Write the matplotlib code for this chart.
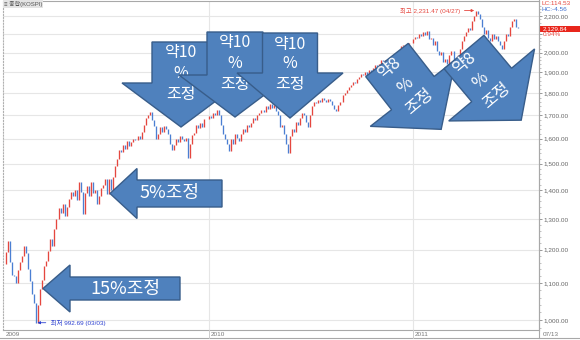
import numpy as np
import matplotlib
matplotlib.use('Agg')
import matplotlib.pyplot as plt
from matplotlib.patches import Polygon, Rectangle
from matplotlib.ticker import FixedLocator, NullFormatter, FixedFormatter

# ---------------- data (KOSPI, sampled about every 2.5 trading days) ----------------
kospi_2009 = [1157, 1194, 1228, 1163, 1125, 1122, 1100, 1137, 1162, 1180,
              1210, 1190, 1140, 1105, 1070, 1045, 993, 1040, 1085, 1110,
              1150, 1165, 1195, 1235, 1210, 1265, 1300, 1336, 1320, 1350,
              1310, 1340, 1370, 1395, 1380, 1400, 1365, 1430, 1395, 1315,
              1390, 1415, 1378, 1430, 1390, 1400, 1350, 1380, 1410, 1420,
              1440, 1385, 1440, 1400, 1450, 1490, 1520, 1555, 1545, 1575,
              1560, 1590, 1570, 1585, 1600, 1595, 1610, 1600, 1630, 1660,
              1690, 1700, 1715, 1680, 1655, 1600, 1620, 1650, 1630, 1655,
              1640, 1620, 1580, 1555, 1575, 1600, 1585, 1610, 1600, 1590,
              1605, 1524, 1580, 1615, 1625, 1660, 1645, 1665, 1650, 1685,
              1683]
kospi_2010 = [1696, 1690, 1710, 1700, 1722, 1700, 1660, 1620, 1600, 1580,
              1552, 1600, 1580, 1620, 1605, 1590, 1620, 1640, 1630, 1660,
              1650, 1665, 1690, 1680, 1700, 1710, 1725, 1715, 1740, 1730,
              1752, 1735, 1745, 1720, 1700, 1650, 1660, 1620, 1580, 1540,
              1610, 1640, 1630, 1670, 1660, 1690, 1710, 1700, 1670, 1650,
              1700, 1740, 1760, 1755, 1770, 1760, 1780, 1770, 1760, 1775,
              1765, 1745, 1730, 1720, 1745, 1760, 1790, 1800, 1815, 1830,
              1840, 1855, 1850, 1870, 1880, 1895, 1890, 1900, 1880, 1910,
              1900, 1920, 1935, 1915, 1940, 1960, 1945, 1965, 1914, 1930,
              1905, 1950, 1975, 2000, 2010, 2035, 2040, 2025, 2045, 2050,
              2051]
kospi_2011 = [2070, 2085, 2080, 2100, 2090, 2108, 2095, 2115, 2070, 2080,
              2040, 2060, 2010, 1990, 2005, 1950, 1970, 1940, 1990, 2010,
              1960, 1900, 1990, 2020, 2060, 2090, 2110, 2130, 2120, 2170,
              2200, 2231, 2210, 2180, 2140, 2100, 2120, 2080, 2060, 2100,
              2070, 2090, 2060, 2040, 2020, 2060, 2100, 2090, 2140, 2170,
              2180, 2140, 2130]
year_labels = ['2009', '2010', '2011']
year_start_day = [0, 253, 505]          # trading-day index of first session of each year
y_ticks = [1000, 1100, 1200, 1300, 1400, 1500, 1600, 1700, 1800, 1900, 2000, 2100, 2200]
last_close = '2,129.84'
last_change = '0.94%'
lc_text = 'LC:114.53'
hc_text = 'HC:-4.56'
max_text = '최고 2,231.47 (04/27)'
min_text = '최저 992.69 (03/03)'
end_date = '07/13'

# ---------------- figure ----------------
W, H = 580, 340
fig = plt.figure(figsize=(W / 100, H / 100), dpi=100)
fig.patch.set_facecolor('white')
SMALL = ['Liberation Sans', 'Noto Sans CJK KR', 'DejaVu Sans']
BIG = ['Noto Sans CJK KR', 'DejaVu Sans']
RED = '#e5473f'
BLUE = '#4b7fd3'

ax = fig.add_axes([3 / W, 10 / H, 536 / W, 329 / H])
step = 2.5
xs, vs = [], []
for start, vals in zip(year_start_day, [kospi_2009, kospi_2010, kospi_2011]):
    for k, v in enumerate(vals):
        xs.append(start + step * k)
        vs.append(v)
xs = np.array(xs)
vs = np.array(vs, dtype=float)
prev = np.concatenate([[vs[0]], vs[:-1]])
cols = [RED if v >= p else BLUE for v, p in zip(vs, prev)]
lo = np.minimum(prev, vs)
hi = np.maximum(prev, vs)
ax.vlines(xs, lo, hi, colors=cols, linewidth=0.95, zorder=3)

ax.set_yscale('log')
ax.set_xlim(-1, 660.5)
ax.set_ylim(974.4, 2287)
ax.set_xticks([])
ax.yaxis.tick_right()
ax.yaxis.set_major_locator(FixedLocator(y_ticks))
ax.yaxis.set_major_formatter(FixedFormatter(
    ['' if t == 2100 else f'{t:,.2f}' for t in y_ticks]))
minor = [m for m in range(980, 2280, 20) if m not in y_ticks]
ax.yaxis.set_minor_locator(FixedLocator(minor))
ax.yaxis.set_minor_formatter(NullFormatter())
ax.tick_params(axis='y', which='major', length=2.5, width=0.6, color='#888888',
               labelsize=4.6, labelcolor='#666666', pad=1)
ax.tick_params(axis='y', which='minor', length=1.2, width=0.5, color='#aaaaaa')
for lab in ax.get_yticklabels():
    lab.set_family(SMALL)
ax.grid(axis='y', which='major', color='#e6e6e6', linewidth=0.8, zorder=0)
for s in year_start_day[1:]:
    ax.axvline(s, color='#e6e6e6', linewidth=0.8, zorder=0)
for side in ['top', 'bottom', 'right']:
    ax.spines[side].set_color('#a8a8a8')
    ax.spines[side].set_linewidth(0.8)
ax.spines['left'].set_color('#b0b0b0')
ax.spines['left'].set_linestyle(':')
ax.spines['left'].set_linewidth(0.8)

# max / min annotations tied to data
imax = int(np.argmax(vs)); imin = int(np.argmin(vs))
ax.annotate(max_text + ' ', xy=(xs[imax] - 2, vs[imax] * 1.0), xytext=(-9, 0),
            textcoords='offset points', ha='right', va='center', fontsize=4.6,
            color=RED, family=SMALL,
            arrowprops=dict(arrowstyle='-|>', color=RED, lw=0.6, mutation_scale=4,
                            shrinkA=0, shrinkB=0))
ax.annotate(' ' + min_text, xy=(xs[imin] + 1.5, vs[imin]), xytext=(8, 0),
            textcoords='offset points', ha='left', va='center', fontsize=4.6,
            color='#2b3fd0', family=SMALL,
            arrowprops=dict(arrowstyle='-|>', color='#2b3fd0', lw=0.6, mutation_scale=4,
                            shrinkA=0, shrinkB=0))

# ---------------- overlay (pixel space) ----------------
ov = fig.add_axes([0, 0, 1, 1], zorder=5)
ov.set_xlim(0, W); ov.set_ylim(H, 0); ov.axis('off')

# bottom label band & frame
ov.plot([0, W], [338, 338], color='#a8a8a8', lw=0.8)
ov.plot([539, 539], [0, 338], color='#a8a8a8', lw=0.8)
px_per_day = 536 / 661.5
for lab, s in zip(year_labels, year_start_day):
    xp = 3 + (s + 1) * px_per_day
    if s > 0:
        ov.plot([xp, xp], [330, 338], color='#cccccc', lw=0.7)
    ov.text(xp + 1.5, 334.3, lab, fontsize=4.6, color='#777777', family=SMALL,
            ha='left', va='center')
ov.text(543, 334.3, end_date, fontsize=4.6, color='#777777', family=SMALL,
        ha='left', va='center')

# top-left legend
ov.text(4, 4, '≡ 종합(KOSPI)', fontsize=4.3, color='#555555', family=SMALL,
        ha='left', va='center',
        bbox=dict(boxstyle='square,pad=0.15', fc='#e4e4e4', ec='none'))

# top-right info
ov.text(542, 3.5, lc_text, fontsize=4.6, color=RED, family=SMALL, ha='left', va='center')
ov.text(542, 9.5, hc_text, fontsize=4.6, color='#3f6fd0', family=SMALL, ha='left', va='center')
ov.add_patch(Rectangle((540, 25.5), 40, 6.5, fc='#e8261c', ec='none'))
ov.text(543, 28.8, last_close, fontsize=4.6, color='white', family=SMALL, ha='left', va='center')
ov.text(543, 35, last_change, fontsize=4.6, color=RED, family=SMALL, ha='left', va='center')

# block arrows
FILL = '#4f81bd'; EDGE = '#385d8a'

def arrow_pts(tail, ang, length, bh, hh, hl):
    a = np.deg2rad(ang)
    d = np.array([np.cos(a), np.sin(a)])
    p = np.array([-d[1], d[0]])
    T = np.array(tail, dtype=float)
    B = T + d * (length - hl)
    tip = T + d * length
    return [T + p * bh, B + p * bh, B + p * hh, tip, B - p * hh, B - p * bh, T - p * bh]

def draw_arrow(*args, z=6):
    ov.add_patch(Polygon(arrow_pts(*args), closed=True, fc=FILL, ec=EDGE, lw=1.0, zorder=z))

def txt(x, y, s, rot=0, z=7, size=13):
    ov.text(x, y, s, fontsize=size, color='white', family=BIG, ha='center', va='center',
            rotation=rot, rotation_mode='anchor', zorder=z)

# left arrows
draw_arrow((180, 288.5), 180, 137, 11.5, 23.5, 27)
txt(125, 289, '15%조정')
draw_arrow((222, 193.5), 180, 112, 13.5, 25, 27)
txt(170, 193, '5%조정')

# three down arrows
for i, (cx, top, bh, hh, hl, tip) in enumerate([(181, 42, 29, 59, 44, 127),
                                                 (235, 32, 28, 56, 42, 117),
                                                 (290, 33, 27.5, 53, 45, 118)]):
    z = 6 + 2 * i
    draw_arrow((cx, top), 90, tip - top, bh, hh, hl, z=z)
    txt(cx, top + 11, '약10', z=z + 1, size=11.5)
    txt(cx, top + 31, '%', z=z + 1, size=11.5)
    txt(cx, top + 52, '조정', z=z + 1, size=11.5)

# two diagonal arrows
draw_arrow((387, 60), 52, 88, 27, 54, 46, z=12)
txt(390, 68, '약8', rot=40, z=13, size=12)
txt(405, 86, '%', rot=40, z=13, size=12)
txt(419, 102, '조정', rot=40, z=13, size=12)
draw_arrow((464, 52), 50, 89, 26, 56, 46, z=14)
txt(465, 63, '약8', rot=40, z=15, size=12)
txt(480, 81, '%', rot=40, z=15, size=12)
txt(496, 96, '조정', rot=40, z=15, size=12)

fig.savefig('out.png', dpi=100, facecolor='white')
